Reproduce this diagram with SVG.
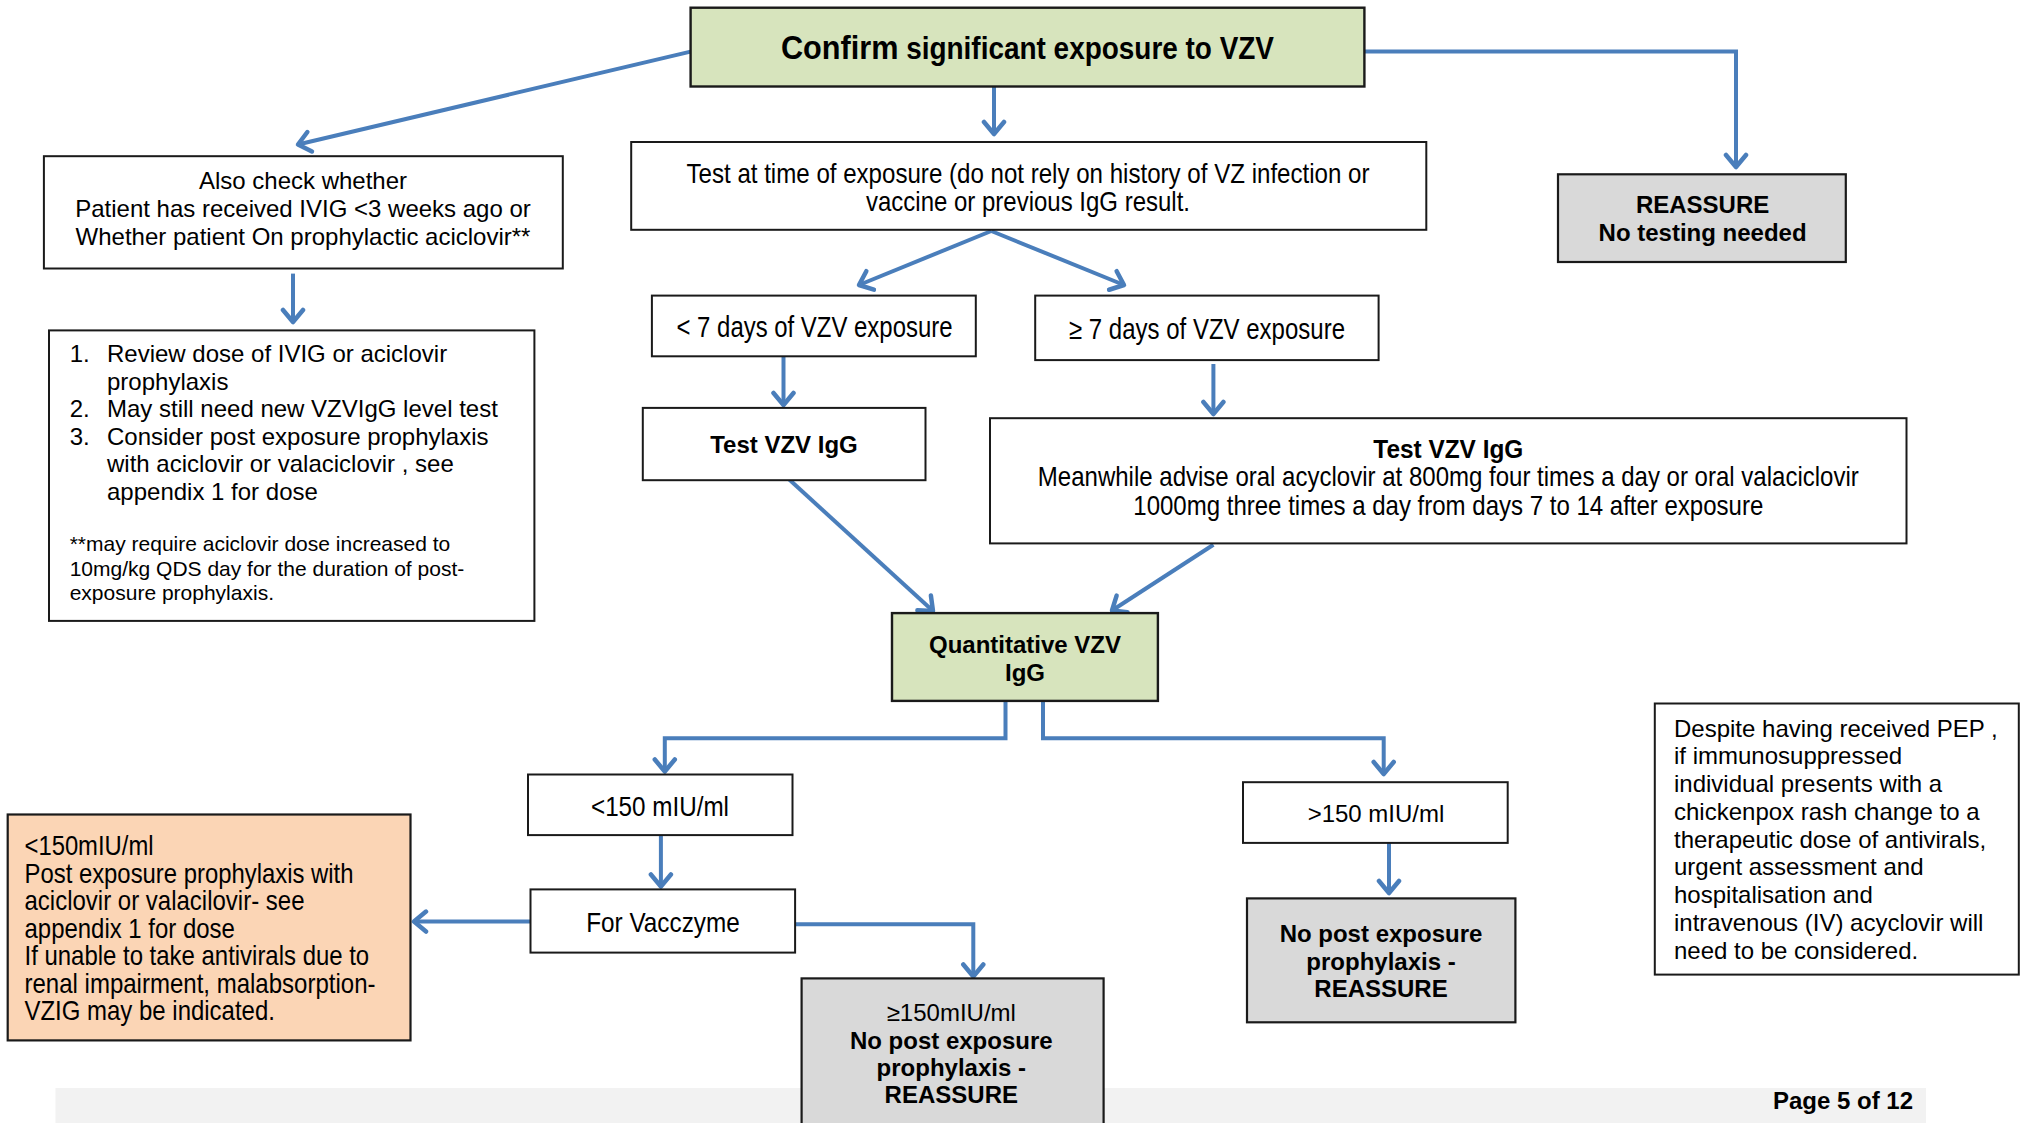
<svg xmlns="http://www.w3.org/2000/svg" width="2024" height="1123" viewBox="0 0 2024 1123">
  <defs>
    <marker id="arrow" markerUnits="userSpaceOnUse" markerWidth="30" markerHeight="30" viewBox="-15 -15 30 30" refX="0" refY="0" orient="auto">
      <path d="M-12,-10 L0,0 L-12,10" fill="none" stroke="#4a7ebb" stroke-width="4.5" stroke-linecap="round" stroke-linejoin="round"/>
    </marker>
    <style>
      .box { fill: #ffffff; stroke: #1a1a1a; stroke-width: 2; }
      .green { fill: #d7e4bd; stroke: #1a1a1a; stroke-width: 2.4; }
      .grey { fill: #d9d9d9; stroke: #1a1a1a; stroke-width: 2.2; }
      .orange { fill: #fbd5b5; stroke: #1a1a1a; stroke-width: 2.2; }
      .band { fill: #f2f2f2; }
      .conn { fill: none; stroke: #4a7ebb; stroke-width: 4; marker-end: url(#arrow); }
      text { font-family: "Liberation Sans", Arial, sans-serif; fill: #000000; }
      .t24 { font-size: 24px; }
      .t21 { font-size: 21px; }
      .b24 { font-size: 24px; font-weight: bold; }
      .n28 { font-size: 28px; }
      .n29 { font-size: 29px; }
      .c { text-anchor: middle; }
    </style>
  </defs>

  <!-- page footer band -->
  <g id="footer">
    <rect class="band" x="55.5" y="1088" width="1870.5" height="35"/>
    <text class="b24" x="1913" y="1109" text-anchor="end">Page 5 of 12</text>
  </g>

  <!-- connectors -->
  <g id="connectors">
    <path class="conn" d="M690.6,51.6 L298,144.5"/>
    <path class="conn" d="M994,86.5 L994,134"/>
    <path class="conn" d="M1364.4,51.6 L1736,51.6 L1736,167"/>
    <path class="conn" d="M293,273.6 L293,322"/>
    <path class="conn" d="M991.3,231 L859,285"/>
    <path class="conn" d="M991.3,231 L1124,285"/>
    <path class="conn" d="M783.5,356.3 L783.5,405"/>
    <path class="conn" d="M1213.4,364 L1213.4,414"/>
    <path class="conn" d="M788.7,479 L933,611"/>
    <path class="conn" d="M1213.4,544.7 L1112,610.5"/>
    <path class="conn" d="M1005.5,700.9 L1005.5,738.3 L664.8,738.3 L664.8,771.5"/>
    <path class="conn" d="M1043,700.9 L1043,738.3 L1383.7,738.3 L1383.7,774"/>
    <path class="conn" d="M660.9,835.1 L660.9,886.5"/>
    <path class="conn" d="M530.5,921.6 L414,921.6"/>
    <path class="conn" d="M795.1,924.2 L973.3,924.2 L973.3,976.5"/>
    <path class="conn" d="M1389,842.9 L1389,893"/>
  </g>

  <g id="confirm-exposure">
    <rect class="green" x="690.6" y="7.7" width="673.8" height="78.8"/>
    <text class="c" x="1027.5" y="59" font-weight="bold" textLength="493" lengthAdjust="spacingAndGlyphs"><tspan font-size="34">Confirm</tspan><tspan font-size="31"> significant exposure to VZV</tspan></text>
  </g>

  <g id="also-check">
    <rect class="box" x="43.9" y="156.2" width="518.9" height="112.3"/>
    <text class="t24 c" x="303" y="189">Also check whether</text>
    <text class="t24 c" x="303" y="217">Patient has received IVIG &lt;3 weeks ago or</text>
    <text class="t24 c" x="303" y="245">Whether patient On prophylactic aciclovir**</text>
  </g>

  <g id="review-list">
    <rect class="box" x="49" y="330.4" width="485.4" height="290.5"/>
    <text class="t24" x="69.7" y="362">1.</text>
    <text class="t24" x="107" y="362">Review dose of IVIG or aciclovir</text>
    <text class="t24" x="107" y="389.6">prophylaxis</text>
    <text class="t24" x="69.7" y="417.2">2.</text>
    <text class="t24" x="107" y="417.2">May still need new VZVIgG level test</text>
    <text class="t24" x="69.7" y="444.8">3.</text>
    <text class="t24" x="107" y="444.8">Consider  post exposure prophylaxis</text>
    <text class="t24" x="107" y="472.4">with aciclovir or valaciclovir , see</text>
    <text class="t24" x="107" y="500">appendix 1 for dose</text>
    <text class="t21" x="69.7" y="551">**may require aciclovir dose increased to</text>
    <text class="t21" x="69.7" y="575.5">10mg/kg QDS day for the duration of post-</text>
    <text class="t21" x="69.7" y="600">exposure prophylaxis.</text>
  </g>

  <g id="test-at-exposure">
    <rect class="box" x="631.2" y="142" width="795.1" height="87.8"/>
    <text class="n28 c" x="1028" y="183" textLength="683" lengthAdjust="spacingAndGlyphs">Test at time of exposure (do not rely on history of VZ infection or</text>
    <text class="n28 c" x="1028" y="211" textLength="324" lengthAdjust="spacingAndGlyphs">vaccine or previous IgG result.</text>
  </g>

  <g id="reassure-no-test">
    <rect class="grey" x="1558" y="174.3" width="287.8" height="87.7"/>
    <text class="b24 c" x="1702.6" y="212.5">REASSURE</text>
    <text class="b24 c" x="1702.6" y="240.8">No testing needed</text>
  </g>

  <g id="under-7-days">
    <rect class="box" x="651.9" y="295.6" width="323.9" height="60.7"/>
    <text class="n29 c" x="814.5" y="337" textLength="276" lengthAdjust="spacingAndGlyphs">&lt; 7 days of VZV exposure</text>
  </g>

  <g id="over-7-days">
    <rect class="box" x="1035.2" y="295.6" width="343.4" height="64.5"/>
    <text class="n29 c" x="1207" y="339" textLength="276" lengthAdjust="spacingAndGlyphs">≥ 7 days of VZV exposure</text>
  </g>

  <g id="test-igg-left">
    <rect class="box" x="642.8" y="407.9" width="282.7" height="72.3"/>
    <text class="b24 c" x="784" y="452.5">Test VZV IgG</text>
  </g>

  <g id="test-igg-right">
    <rect class="box" x="990" y="418.2" width="916.5" height="125.2"/>
    <text class="c" x="1448.3" y="458" font-size="26" font-weight="bold" textLength="150" lengthAdjust="spacingAndGlyphs">Test VZV IgG</text>
    <text class="n28 c" x="1448.3" y="486" textLength="821" lengthAdjust="spacingAndGlyphs">Meanwhile advise oral acyclovir at 800mg four times a day or oral valaciclovir</text>
    <text class="n28 c" x="1448.3" y="514.5" textLength="630" lengthAdjust="spacingAndGlyphs">1000mg three times a day from days 7 to 14 after exposure</text>
  </g>

  <g id="quantitative-igg">
    <rect class="green" x="892" y="613.1" width="265.9" height="87.8"/>
    <text class="b24 c" x="1025" y="652.5">Quantitative VZV</text>
    <text class="b24 c" x="1025" y="681">IgG</text>
  </g>

  <g id="below-150">
    <rect class="box" x="528" y="774.5" width="264.5" height="60.6"/>
    <text class="n28 c" x="660" y="815.5" textLength="138" lengthAdjust="spacingAndGlyphs">&lt;150 mIU/ml</text>
  </g>

  <g id="vacczyme">
    <rect class="box" x="530.5" y="889.4" width="264.6" height="63.2"/>
    <text class="n28 c" x="663" y="931.5" textLength="153.6" lengthAdjust="spacingAndGlyphs">For Vacczyme</text>
  </g>

  <g id="pep-advice">
    <rect class="orange" x="7.7" y="814.5" width="402.8" height="225.9"/>
    <text class="n28" x="24.5" y="855" textLength="129" lengthAdjust="spacingAndGlyphs">&lt;150mIU/ml</text>
    <text class="n28" x="24.5" y="882.5" textLength="329" lengthAdjust="spacingAndGlyphs">Post exposure prophylaxis with</text>
    <text class="n28" x="24.5" y="910" textLength="280" lengthAdjust="spacingAndGlyphs">aciclovir or valacilovir- see</text>
    <text class="n28" x="24.5" y="937.5" textLength="210.4" lengthAdjust="spacingAndGlyphs">appendix 1 for dose</text>
    <text class="n28" x="24.5" y="965" textLength="344.7" lengthAdjust="spacingAndGlyphs">If unable to take antivirals due to</text>
    <text class="n28" x="24.5" y="992.5" textLength="351" lengthAdjust="spacingAndGlyphs">renal impairment, malabsorption-</text>
    <text class="n28" x="24.5" y="1020" textLength="250.4" lengthAdjust="spacingAndGlyphs">VZIG may be indicated.</text>
  </g>

  <g id="at-least-150">
    <rect class="grey" x="801.6" y="978.4" width="302" height="160"/>
    <text class="t24 c" x="951.3" y="1020.5">≥150mIU/ml</text>
    <text class="b24 c" x="951.3" y="1049">No post exposure</text>
    <text class="b24 c" x="951.3" y="1076">prophylaxis -</text>
    <text class="b24 c" x="951.3" y="1103">REASSURE</text>
  </g>

  <g id="above-150">
    <rect class="box" x="1243" y="782.2" width="264.7" height="60.7"/>
    <text class="t24 c" x="1376" y="821.7">&gt;150 mIU/ml</text>
  </g>

  <g id="no-pep-reassure">
    <rect class="grey" x="1247" y="898.4" width="268.4" height="123.9"/>
    <text class="b24 c" x="1381" y="941.8">No post exposure</text>
    <text class="b24 c" x="1381" y="970">prophylaxis -</text>
    <text class="b24 c" x="1381" y="997.3">REASSURE</text>
  </g>

  <g id="pep-note">
    <rect class="box" x="1654.8" y="703.5" width="364" height="271.1"/>
    <text class="t24" x="1674" y="736.5">Despite having received PEP ,</text>
    <text class="t24" x="1674" y="764.2">if immunosuppressed</text>
    <text class="t24" x="1674" y="792">individual presents with a</text>
    <text class="t24" x="1674" y="819.7">chickenpox rash change to a</text>
    <text class="t24" x="1674" y="847.5">therapeutic dose of antivirals,</text>
    <text class="t24" x="1674" y="875.2">urgent assessment and</text>
    <text class="t24" x="1674" y="903">hospitalisation and</text>
    <text class="t24" x="1674" y="930.7">intravenous (IV) acyclovir will</text>
    <text class="t24" x="1674" y="958.5">need to be considered.</text>
  </g>
</svg>
